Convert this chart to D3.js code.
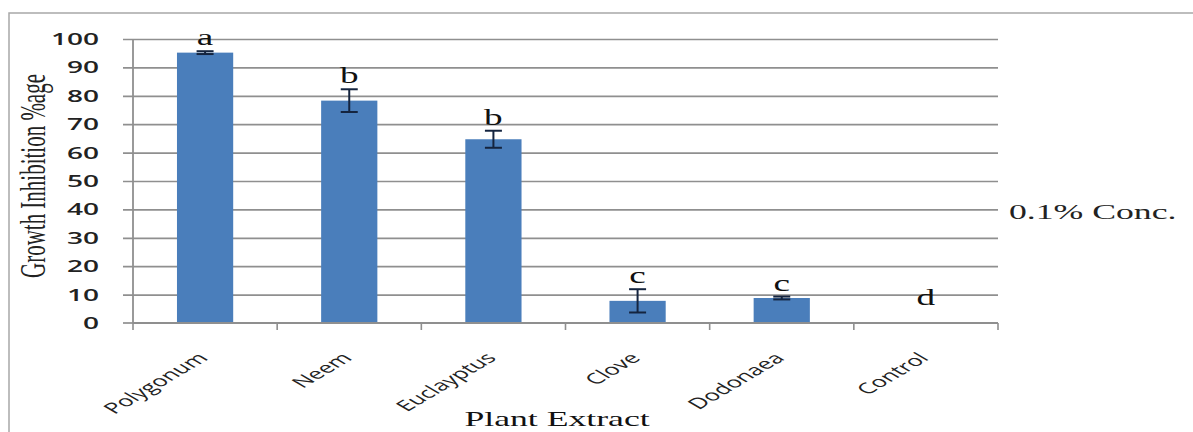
<!DOCTYPE html>
<html>
<head>
<meta charset="utf-8">
<script src="https://cdn.jsdelivr.net/npm/d3@7"></script>
<style>
  body { margin: 0; background: #fff; }
  svg { display: block; }
</style>
</head>
<body>
<svg id="chart" width="1193" height="432"></svg>
<script>
// Plant extract growth inhibition at 0.1% concentration
const categories = ["Polygonum", "Neem", "Euclayptus", "Clove", "Dodonaea", "Control"];
const inhibition = [95.2, 78.3, 64.7, 7.8, 8.8, 0];
const stdError = [0.5, 4.0, 3.0, 4.1, 0.5, 0];
const groupLetters = ["a", "b", "b", "c", "c", "d"];
const yTicks = [0, 10, 20, 30, 40, 50, 60, 70, 80, 90, 100];
const seriesName = "0.1% Conc.";
const yTitle = "Growth Inhibition %age";
const xTitle = "Plant Extract";

const W = 1193, H = 432;
const plot = { left: 133, right: 998, top: 39, bottom: 323 };
const stretch = 1.7;          // horizontal text stretch
const gridColor = "#8f8f8f";
const barColor = "#4a7ebb";
const errColor = "#14243f";

const svg = d3.select("#chart");
svg.append("rect").attr("width", W).attr("height", H).attr("fill", "#fff");

// outer frame
svg.append("rect")
  .attr("x", 9).attr("y", 13).attr("width", 1300).attr("height", 500)
  .attr("fill", "none").attr("stroke", "#a8a8a8").attr("stroke-width", 1.5);

const x = d3.scaleBand().domain(categories).range([plot.left, plot.right]);
const y = d3.scaleLinear().domain([0, 100]).range([plot.bottom, plot.top]);

// y axis with gridlines
const yAxis = d3.axisLeft(y)
  .tickValues(yTicks.filter(v => v > 0))
  .tickSize(-(plot.right - plot.left + 10))
  .tickPadding(0);

const gy = svg.append("g")
  .attr("transform", `translate(${plot.left - 10},0)`)
  .call(yAxis);
gy.select(".domain").remove();
gy.selectAll(".tick line").attr("stroke", gridColor).attr("stroke-width", 1.7);
gy.selectAll(".tick text").remove();

// y tick labels (including 0)
svg.append("g").selectAll("text")
  .data(yTicks)
  .join("text")
  .attr("transform", d => `translate(${plot.left - 34},${y(d)}) scale(${stretch},1)`)
  .attr("dy", "0.36em")
  .attr("text-anchor", "end")
  .attr("font-family", "'Open Sans', sans-serif")
  .attr("font-size", 16.5)
  .attr("font-weight", 600)
  .attr("fill", "#222")
  .text(d => d);

// zero tick on the y axis
svg.append("line")
  .attr("x1", plot.left - 10).attr("x2", plot.left)
  .attr("y1", y(0)).attr("y2", y(0))
  .attr("stroke", gridColor).attr("stroke-width", 1.7);

// vertical y axis line
svg.append("line")
  .attr("x1", plot.left).attr("x2", plot.left)
  .attr("y1", y(100)).attr("y2", y(0))
  .attr("stroke", gridColor).attr("stroke-width", 1.8);

// bars
const barW = x.bandwidth() * 0.39;
svg.append("g").selectAll("rect")
  .data(categories)
  .join("rect")
  .attr("x", (c) => x(c) + (x.bandwidth() - barW) / 2)
  .attr("width", barW)
  .attr("y", (c, i) => y(inhibition[i]))
  .attr("height", (c, i) => y(0) - y(inhibition[i]))
  .attr("fill", barColor);

// x axis line and category boundary ticks
svg.append("line")
  .attr("x1", plot.left).attr("x2", plot.right)
  .attr("y1", y(0)).attr("y2", y(0))
  .attr("stroke", gridColor).attr("stroke-width", 1.8);
const boundaries = categories.map(c => x(c)).concat([x.range()[1]]);
svg.append("g").selectAll("line")
  .data(boundaries)
  .join("line")
  .attr("x1", d => d).attr("x2", d => d)
  .attr("y1", y(0)).attr("y2", y(0) + 7)
  .attr("stroke", gridColor).attr("stroke-width", 1.6);

// error bars
const capW = 17;
const eb = svg.append("g").attr("stroke", errColor).attr("stroke-width", 2);
categories.forEach((c, i) => {
  if (!stdError[i]) return;
  const cx = x(c) + x.bandwidth() / 2;
  const hi = y(inhibition[i] + stdError[i]);
  const lo = y(inhibition[i] - stdError[i]);
  eb.append("line").attr("x1", cx).attr("x2", cx).attr("y1", hi).attr("y2", lo);
  eb.append("line").attr("x1", cx - capW / 2).attr("x2", cx + capW / 2).attr("y1", hi).attr("y2", hi);
  eb.append("line").attr("x1", cx - capW / 2).attr("x2", cx + capW / 2).attr("y1", lo).attr("y2", lo);
});

// significance letters
svg.append("g").selectAll("text")
  .data(categories)
  .join("text")
  .attr("transform", (c, i) => {
    const cx = x(c) + x.bandwidth() / 2;
    const by = Math.min(y(inhibition[i] + stdError[i]) - 6, y(0) - 18);
    return `translate(${cx},${by}) scale(1.55,1)`;
  })
  .attr("text-anchor", "middle")
  .attr("font-family", "'Liberation Serif', 'Times New Roman', serif")
  .attr("font-size", 24)
  .attr("fill", "#111")
  .text((c, i) => groupLetters[i]);

// category labels
svg.append("g").selectAll("text")
  .data(categories)
  .join("text")
  .attr("transform", c => `translate(${x(c) + x.bandwidth() / 2 + 4},${y(0) + 36}) scale(${stretch},1) rotate(-45)`)
  .attr("text-anchor", "end")
  .attr("font-family", "'Open Sans', sans-serif")
  .attr("font-size", 15)
  .attr("fill", "#222")
  .text(c => c);

// axis titles
svg.append("text")
  .attr("transform", `translate(45,176) scale(${stretch},1) rotate(-90)`)
  .attr("text-anchor", "middle")
  .attr("font-family", "'Liberation Serif', 'Times New Roman', serif")
  .attr("font-size", 21)
  .attr("fill", "#222")
  .text(yTitle);

svg.append("text")
  .attr("transform", `translate(557,426) scale(${stretch},1)`)
  .attr("text-anchor", "middle")
  .attr("font-family", "'Liberation Serif', 'Times New Roman', serif")
  .attr("font-size", 21)
  .attr("fill", "#111")
  .text(xTitle);

// series label
svg.append("text")
  .attr("transform", `translate(1009,219) scale(${stretch},1)`)
  .attr("font-family", "'Liberation Serif', 'Times New Roman', serif")
  .attr("font-size", 21)
  .attr("fill", "#222")
  .text(seriesName);
</script>
</body>
</html>
